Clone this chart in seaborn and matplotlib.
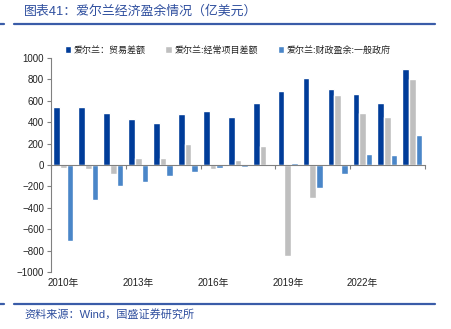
import matplotlib
matplotlib.use("Agg")
import matplotlib.pyplot as plt
import seaborn as sns
import pandas as pd
from matplotlib.lines import Line2D
from matplotlib.transforms import blended_transform_factory

years = [str(y) for y in range(2010, 2025)]
trade = [545, 545, 486, 433, 396, 471, 502, 452, 582, 691, 809, 710, 666, 582, 893]
current = [-28, -37, -81, 65, 65, 192, -37, 49, 180, -844, -310, 654, 489, 452, 800]
fiscal = [-704, -323, -193, -155, -100, -62, -28, -15, -5, 19, -214, -84, 99, 89, 282]
series_names = ["爱尔兰：贸易差额", "爱尔兰:经常项目差额", "爱尔兰:财政盈余:一般政府"]
colors = ["#003C99", "#BFBFBF", "#4A86C8"]
label_years = ["2010", "2013", "2016", "2019", "2022"]

sns.set_theme(style="white")
plt.rcParams['font.family'] = ['Liberation Sans', 'Noto Sans CJK SC', 'DejaVu Sans']

df = pd.DataFrame({
    "year": years * 3,
    "value": trade + current + fiscal,
    "series": [series_names[0]] * 15 + [series_names[1]] * 15 + [series_names[2]] * 15,
})

fig = plt.figure(figsize=(4.51, 3.29), dpi=100)
ax = fig.add_axes([0.113, 0.1723, 0.829, 0.6523])
sns.barplot(data=df, x="year", y="value", hue="series", palette=colors,
            hue_order=series_names, ax=ax, width=0.8, saturation=1, legend=True,
            errorbar=None)

ax.set_ylim(-1000, 1000)
ax.set_xlim(-0.5, len(years) - 0.5)
ax.set_yticks(range(-1000, 1001, 200))
ax.tick_params(axis="y", which="both", left=True, length=3, width=0.8, color="#808080",
               labelsize=7, labelcolor="#222222", pad=2)
ax.set_xlabel("")
ax.set_ylabel("")
for s in ["top", "right"]:
    ax.spines[s].set_visible(False)
for s in ["left", "bottom"]:
    ax.spines[s].set_color("#808080")
    ax.spines[s].set_linewidth(0.8)
ax.spines["bottom"].set_position(("data", 0))

# zero line ticks at group boundaries (every 3 years)
ax.set_xticks([-0.5, 2.5, 5.5, 8.5, 11.5, 14.5])
ax.set_xticklabels([])
ax.tick_params(axis="x", bottom=True, length=3, width=0.8, color="#808080", direction="out")

# year labels at bottom of the plot area
trans = blended_transform_factory(ax.transData, ax.transAxes)
for y in label_years:
    ax.text(years.index(y), -0.025, y + "年", transform=trans, ha="center", va="top",
            fontsize=7, color="#222222")

handles, labels = ax.get_legend_handles_labels()
ax.legend(handles, labels, ncol=3, frameon=False, loc="center",
          bbox_to_anchor=(0.505, 0.848), bbox_transform=fig.transFigure,
          fontsize=6.5, handlelength=0.7, handleheight=0.7, handletextpad=0.3,
          columnspacing=2.2, labelcolor="#222222")

# title and source
title_color = "#2E4E9E"
fig.text(24 / 451, 1 - 11 / 329, "图表41：爱尔兰经济盈余情况（亿美元）", fontsize=9.3,
         color=title_color, va="center", ha="left")
fig.text(24 / 451, 1 - 314 / 329, "资料来源：Wind，国盛证券研究所", fontsize=8,
         color=title_color, va="center", ha="left")
line_color = "#3A5CA8"
for yy in [24, 304]:
    y = 1 - yy / 329
    fig.add_artist(Line2D([14 / 451, 435 / 451], [y, y], color=line_color, lw=1.6,
                          transform=fig.transFigure))
    fig.add_artist(Line2D([0, 4 / 451], [y, y], color=line_color, lw=1.6,
                          transform=fig.transFigure))

fig.savefig("out.png", dpi=100)
